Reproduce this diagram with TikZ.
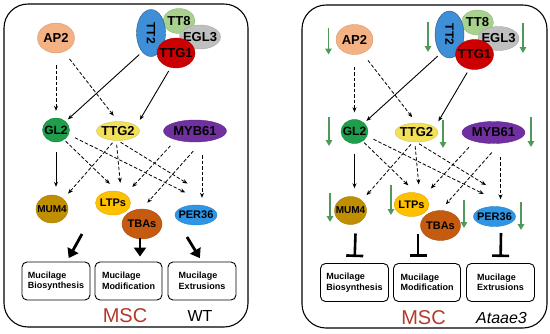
\documentclass[tikz,border=0pt]{standalone}
\usepackage{fontspec}
\setmainfont{Liberation Sans}
\usetikzlibrary{arrows.meta,shapes.geometric}
\definecolor{mscred}{HTML}{B23A2B}
\definecolor{ap2c}{HTML}{F4B183}
\definecolor{tt2c}{HTML}{3F8FD8}
\definecolor{tt8c}{HTML}{A9D18E}
\definecolor{egl3c}{HTML}{BFBFBF}
\definecolor{ttg1c}{HTML}{CC0000}
\definecolor{gl2c}{HTML}{1F9E4C}
\definecolor{ttg2c}{HTML}{F2E05A}
\definecolor{myb61c}{HTML}{7030A0}
\definecolor{mum4c}{HTML}{BF8F00}
\definecolor{ltpsc}{HTML}{FFC000}
\definecolor{tbasc}{HTML}{C55A11}
\definecolor{per36c}{HTML}{2F96E6}
\definecolor{downgreen}{HTML}{4F9A5A}

\begin{document}
\begin{tikzpicture}[x=1pt,y=-1pt,
  gene/.style={ellipse,fill=#1,draw=#1!88!black,line width=0.4pt,inner sep=-6pt,font=\bfseries\fontsize{13}{13}\selectfont},
  dep/.style={dash pattern=on 3.5pt off 2pt,line width=0.8pt,-{Stealth[length=5pt,width=4pt]}},
  act/.style={line width=0.9pt,-{Stealth[length=5pt,width=4pt]}},
  big/.style={line width=2.8pt,-{Triangle[length=9pt,width=12pt]}},
  inh/.style={line width=2.6pt,-{Bar[width=17pt]}},
  decr/.style={line width=1.8pt,draw=downgreen,-{Triangle[length=6pt,width=6.5pt]}},
  outbox/.style={draw,rounded corners=5pt,line width=0.9pt,minimum width=68pt,minimum height=38pt,align=left,font=\bfseries\fontsize{9}{10.5}\selectfont},
  panel/.style={line width=1.1pt,rounded corners=24pt}]
  \useasboundingbox (0,0) rectangle (550,333);
  \def\network{
    % complex
    \node[gene=tt8c,minimum width=32pt,minimum height=25pt] (TT8) at (179,21) {TT8};
    \node[gene=egl3c,minimum width=41pt,minimum height=24pt] (EGL3) at (200,37) {EGL3};
    \node[gene=tt2c,draw=tt2c!60!black,minimum width=47pt,minimum height=29pt,rotate=-90,font=\bfseries\fontsize{12}{12}\selectfont] (TT2) at (151,33) {TT2};
    \node[gene=ttg1c,minimum width=38pt,minimum height=30pt] (TTG1) at (176,53) {TTG1};
    \node[gene=ap2c,minimum width=37pt,minimum height=30pt] (AP2) at (56,38) {AP2};
    % regulators
    \node[gene=gl2c,minimum width=27pt,minimum height=24pt,font=\bfseries\fontsize{12}{12}\selectfont] (GL2) at (56,130) {GL2};
    \node[gene=ttg2c,minimum width=43pt,minimum height=19pt] (TTG2) at (118,131) {TTG2};
    \node[gene=myb61c,minimum width=63pt,minimum height=22pt] (MYB61) at (195,131) {MYB61};
    % targets
    \node[gene=mum4c,minimum width=32pt,minimum height=28pt,font=\bfseries\fontsize{10}{10}\selectfont] (MUM4) at (52,209) {MUM4};
    \node[gene=ltpsc,minimum width=35pt,minimum height=24pt,font=\bfseries\fontsize{11}{11}\selectfont] (LTPs) at (113,203) {LTPs};
    \node[gene=tbasc,minimum width=40pt,minimum height=30pt,font=\bfseries\fontsize{11}{11}\selectfont] (TBAs) at (142,224) {TBAs};
    \node[gene=per36c,minimum width=42pt,minimum height=20pt,font=\bfseries\fontsize{11}{11}\selectfont] (PER36) at (196,215) {PER36};
    % processes
    \node[outbox] (bio) at (56,281) {Mucilage\\Biosynthesis};
    \node[outbox,minimum width=67pt] (mod) at (128.5,281) {Mucilage\\Modification};
    \node[outbox] (ext) at (202,281) {Mucilage\\Extrusions};
    % regulation
    \draw[dep,shorten <=12pt,shorten >=7pt] (AP2.south) -- (GL2.north);
    \draw[dep,shorten <=9pt,shorten >=7pt] (AP2.-60) -- (TTG2.north);
    \draw[act,shorten <=4pt,shorten >=3pt] (TT2.-25) -- (GL2.north east);
    \draw[act,shorten <=4pt,shorten >=5pt] (TTG1.-110) -- ([xshift=4pt]TTG2.north east);
    \draw[act,shorten <=10pt,shorten >=8pt] (GL2.south) -- (GL2.south |- MUM4.north);
    \draw[dep,shorten <=2pt,shorten >=10pt] (GL2.-50) -- ([xshift=4pt]LTPs.north);
    \draw[dep,shorten <=7pt,shorten >=12pt] (GL2.-20) -- ([yshift=7pt]PER36.north);
    \draw[dep,shorten <=3pt,shorten >=7pt] (TTG2.-110) -- (MUM4.north east);
    \draw[dep,shorten <=4pt,shorten >=8pt] (TTG2.-100) -- ([xshift=8pt]LTPs.north);
    \draw[dep,shorten <=3pt,shorten >=10pt] (TTG2.south) -- ([yshift=16pt]PER36.north);
    \draw[dep,shorten <=8pt,shorten >=10pt] (MYB61.-155) -- (LTPs.north east);
    \draw[dep,shorten <=12pt,shorten >=8pt] (MYB61.-60) -- (TBAs.north);
    \draw[dep,shorten <=13pt,shorten >=7pt] ([xshift=7pt]MYB61.south) -- ([xshift=7pt]MYB61.south |- PER36.north);
    \node[text=mscred,font=\fontsize{20}{20}\selectfont] (msc) at (125,316) {MSC};
  }
  % wild type
  \begin{scope}[name prefix=wt-]
    \draw[panel] (4,4) rectangle (248,327);
    \network
    \coordinate (s1) at (82,234); \coordinate (s2) at (140,238); \coordinate (s3) at (187,237);
    \draw[big,shorten >=4pt] (s1) -- (bio);
    \draw[big,shorten >=5pt] (s2) -- (s2 |- mod.north);
    \draw[big,shorten >=4pt] (s3) -- (ext.north);
    \node[font=\fontsize{16}{16}\selectfont] (tag) at (200,316) {WT};
  \end{scope}
  % mutant
  \begin{scope}[shift={(298.5,1.5)},name prefix=aa-]
    \draw[panel] (3.5,3.5) rectangle (248.5,326.5);
    \network
    \coordinate (s1) at (57,232); \coordinate (s2) at (119.5,232.5); \coordinate (s3) at (202.5,231.5);
    \draw[inh,shorten >=6pt] (s1) -- (bio.north);
    \draw[inh,shorten >=6pt] (s2) -- (s2 |- mod.north);
    \draw[inh,shorten >=6pt] (s3) -- (ext.north);
    \foreach \g/\dx/\dy/\len in {AP2/-26/-12/27, TT2/-21.5/-12.5/30, EGL3/24.5/-15.5/30,
      GL2/-25.5/-14.5/29, TTG2/26.5/-12.5/28, MYB61/37.5/-15.5/30,
      MUM4/-20.5/-17.5/29, LTPs/-20.5/-19.5/30, TBAs/23.5/-25.5/28, PER36/26.5/-14.5/28}
      \draw[decr] ([shift={(\dx,\dy)}]\g.center) -- ++(0,\len);
    \node[font=\itshape\fontsize{16}{16}\selectfont] (tag) at (203,316) {Ataae3};
  \end{scope}
\end{tikzpicture}
\end{document}
